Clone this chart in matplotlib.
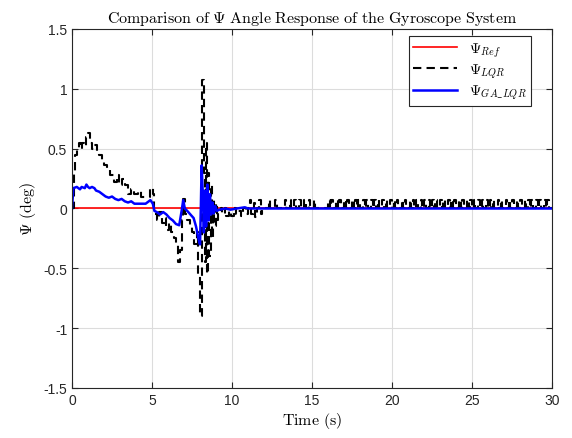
import numpy as np
import matplotlib
matplotlib.use("Agg")
import matplotlib.pyplot as plt

plt.rcParams['mathtext.fontset'] = 'cm'
plt.rcParams['font.family'] = ['Liberation Sans', 'DejaVu Sans']

# Reference
ref_t = [0, 30]
ref_v = [0, 0]

# LQR response (step samples, 0-12 s)
lqr_t = [0.0, 0.1, 0.2, 0.3, 0.45, 0.55, 0.65, 0.75, 0.9, 1.0, 1.1, 1.25, 1.4, 1.55, 1.7,
         1.85, 2.0, 2.2, 2.4, 2.6, 2.8, 2.95, 3.1, 3.3, 3.5, 3.7, 3.9, 4.1, 4.3, 4.6, 4.85,
         5.05, 5.15, 5.3, 5.45, 5.6, 5.8, 5.9, 6.05, 6.2, 6.35, 6.5, 6.6, 6.75, 6.85, 6.95,
         7.05, 7.2, 7.35, 7.5, 7.65, 7.8, 7.9, 8.0, 8.1, 8.15, 8.22, 8.28, 8.35, 8.42, 8.5,
         8.58, 8.66, 8.74, 8.82, 8.9, 8.98, 9.06, 9.15, 9.3, 9.4, 9.55, 9.65, 9.8, 9.95,
         10.1, 10.25, 10.4, 10.55, 10.7, 10.85, 11.0, 11.1, 11.2, 11.35, 11.45, 11.55, 11.7,
         11.8, 11.9, 12.0]
lqr_v = [0.0, 0.3, 0.45, 0.5, 0.55, 0.5, 0.55, 0.52, 0.6, 0.63, 0.55, 0.5, 0.53, 0.47, 0.45,
         0.4, 0.36, 0.32, 0.28, 0.22, 0.28, 0.2, 0.25, 0.2, 0.12, 0.16, 0.12, 0.15, 0.1, 0.1, 0.17,
         0.12, -0.05, -0.1, -0.03, -0.12, -0.08, -0.18, -0.12, -0.2, -0.25, -0.3, -0.45, -0.35, -0.1, 0.08,
         -0.05, -0.1, -0.15, -0.2, -0.3, -0.2, -0.55, -0.9, 0.5, 1.07, 0.3, -0.45, 0.55, -0.55, 0.3,
         -0.4, 0.2, -0.25, 0.08, -0.15, 0.05, -0.1, -0.05, 0.0, -0.05, 0.0, -0.06, -0.02, -0.06,
         0.0, -0.05, -0.02, -0.06, 0.0, -0.05, 0.0, 0.07, -0.05, 0.05, -0.07, 0.0, 0.07,
         -0.05, 0.0, 0.0]

# LQR chattering pulses after 12 s (start times and heights)
pulse_t = [12.3, 12.7, 13.3, 13.6, 13.9, 14.2, 14.5, 14.8, 15.1, 16.0, 16.2, 16.5, 16.7,
           17.0, 17.2, 17.5, 17.7, 17.9, 18.2, 18.4, 18.7, 18.9, 19.1, 19.4, 19.6, 19.9,
           20.1, 20.3, 20.6, 20.8, 21.1, 21.3, 21.5, 21.8, 22.0, 22.3, 22.5, 22.7, 23.0,
           23.2, 23.5, 23.7, 23.9, 24.2, 24.4, 24.7, 24.9, 25.1, 25.4, 25.6, 25.9, 26.1,
           26.3, 26.6, 26.8, 27.1, 27.3, 27.5, 27.8, 28.0, 28.3, 28.5, 28.7, 29.0, 29.2,
           29.5, 29.7]
pulse_h = [0.07] * len(pulse_t)
pulse_w = 0.1

# GA-LQR response
ga_t = [0, 0.08, 0.3, 0.5, 0.6, 0.8, 0.9, 1.0, 1.1, 1.25, 1.4, 1.5, 1.7, 1.9, 2.1, 2.3, 2.5,
        2.7, 2.9, 3.1, 3.3, 3.5, 3.7, 3.9, 4.2, 4.6, 4.9, 5.05, 5.15, 5.3, 5.5, 5.7, 5.9, 6.1,
        6.3, 6.5, 6.7, 6.85, 6.95, 7.05, 7.2, 7.4, 7.6, 7.75, 7.9, 8.0, 8.05, 8.1, 8.18, 8.24,
        8.3, 8.38, 8.46, 8.54, 8.62, 8.7, 8.78, 8.86, 8.95, 9.05, 9.2, 9.6, 9.9, 10.3, 10.8,
        11.0, 30.0]
ga_v = [0, 0.17, 0.18, 0.16, 0.18, 0.17, 0.2, 0.18, 0.17, 0.18, 0.17, 0.15, 0.14, 0.12, 0.1,
        0.09, 0.1, 0.08, 0.07, 0.08, 0.06, 0.05, 0.06, 0.04, 0.04, 0.04, 0.07, 0.04, -0.02, -0.03,
        -0.05, -0.03, -0.05, -0.08, -0.1, -0.13, -0.14, -0.02, 0.07, 0.0, -0.02, -0.05, -0.08,
        -0.15, -0.25, -0.3, 0.0, 0.36, 0.1, -0.2, 0.15, -0.15, 0.2, -0.1, 0.12, -0.05, 0.05,
        -0.04, 0.02, -0.02, -0.01, 0.0, -0.01, 0.0, 0.01, 0.0, 0.0]

# Build full LQR step series
full_t = list(lqr_t)
full_v = list(lqr_v)
for pt, ph in zip(pulse_t, pulse_h):
    full_t += [pt, pt + pulse_w]
    full_v += [ph, 0.0]
full_t.append(30.0)
full_v.append(0.0)

fig = plt.figure(figsize=(5.72, 4.39), dpi=100)
ax = fig.add_axes([0.1259, 0.1139, 0.8392, 0.8178])

ax.plot(ref_t, ref_v, color='#ff0000', lw=1.2, label=r'$\Psi_{Ref}$')
ax.plot(full_t, full_v, color='black', lw=1.5, ls=(0, (4, 2.5)), drawstyle='steps-post',
        label=r'$\Psi_{LQR}$')
ax.plot(ga_t, ga_v, color='#0000ff', lw=1.8, label=r'$\Psi_{GA\_LQR}$')

ax.set_xlim(0, 30)
ax.set_ylim(-1.5, 1.5)
ax.set_xticks(np.arange(0, 31, 5))
ax.set_yticks([-1.5, -1, -0.5, 0, 0.5, 1, 1.5])
ax.set_yticklabels(['-1.5', '-1', '-0.5', '0', '0.5', '1', '1.5'])
ax.grid(True, color='#dcdcdc', lw=0.8)
ax.tick_params(direction='in', labelsize=10, length=4, top=True, right=True,
               color='#262626', labelcolor='#262626')
for s in ax.spines.values():
    s.set_color('#262626')
    s.set_linewidth(0.8)

ax.set_title(r'$\mathrm{Comparison\ of\ }\Psi\mathrm{\ Angle\ Response\ of\ the\ Gyroscope\ System}$',
             fontsize=11.5, pad=5)
ax.set_xlabel(r'$\mathrm{Time\ (s)}$', fontsize=11.5, labelpad=2)
ax.set_ylabel(r'$\Psi\ \mathrm{(deg)}$', fontsize=11.5, labelpad=4)

leg = ax.legend(loc='upper right', bbox_to_anchor=(0.956, 0.9805), borderaxespad=0,
                fancybox=False, framealpha=1, edgecolor='#262626', fontsize=10.5,
                handlelength=3.0, borderpad=0.3, labelspacing=0.2)
leg.get_frame().set_linewidth(0.8)

fig.savefig('out.png', dpi=100)
